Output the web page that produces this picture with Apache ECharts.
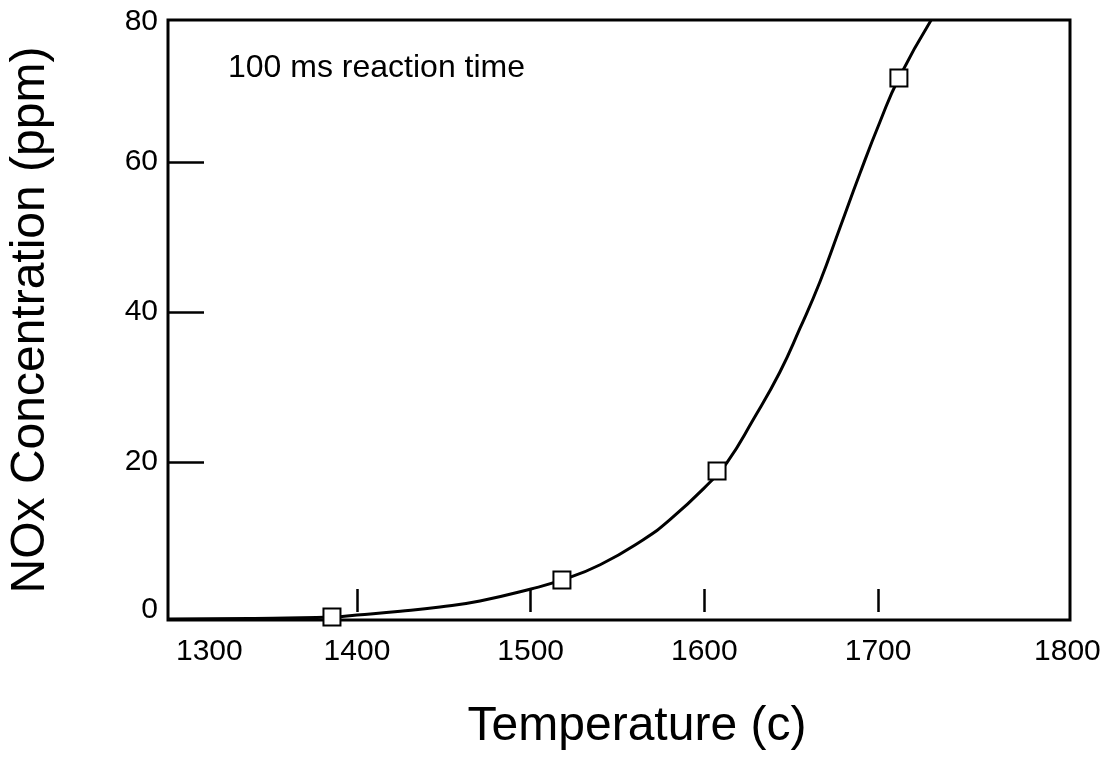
<!DOCTYPE html>
<html>
<head>
<meta charset="utf-8">
<script src="https://cdn.jsdelivr.net/npm/echarts@6/dist/echarts.min.js"></script>
<style>html,body{margin:0;padding:0;background:#fff;}#c{width:1111px;height:758px;}</style>
</head>
<body>
<div id="c"></div>
<script>
// ---- data ----
const markerTemps = [1385.6, 1518, 1607.3, 1712];
const markerNOx   = [-0.67, 4.27, 18.8, 71.2];

const curveTemps = [1291.2, 1338, 1385.6, 1400, 1425, 1447.8, 1470.8, 1500.2, 1518, 1540, 1564.6, 1580.2, 1603.2, 1613, 1628, 1643.5, 1655, 1666.5, 1678, 1689.6, 1701, 1712, 1730.5];
const curveNOx   = [-0.93, -0.87, -0.67, -0.4, 0.1, 0.67, 1.47, 3.07, 4.27, 6.3, 9.6, 12.3, 17.3, 19.9, 25.6, 32.0, 37.8, 44.0, 51.2, 58.5, 65.3, 71.2, 78.9];

const xTickLabels = ['1300', '1400', '1500', '1600', '1700', '1800'];
const yTickLabels = ['0', '20', '40', '60', '80'];
const xTickValues = [1400, 1500, 1600, 1700];
const yTickValues = [20, 40, 60];
// where the original prints its tick labels (end labels sit at the frame edges)
const xLabelAt = [1315, 1400, 1500, 1600, 1700, 1809];
const yLabelAt = [0.27, 20, 40, 60, 78.7];

const xTitle = 'Temperature (c)';
const yTitle = 'NOx Concentration (ppm)';
const note = '100 ms reaction time';

const FONT = '"Liberation Sans", Arial, Helvetica, sans-serif';

const chart = echarts.init(document.getElementById('c'));
chart.setOption({
  animation: false,
  backgroundColor: '#fff',
  grid: {
    left: 168, top: 20, right: 41, bottom: 138,
    outerBoundsMode: 'none', containLabel: false,
    show: true, borderColor: '#000', borderWidth: 3, backgroundColor: 'transparent'
  },
  xAxis: {
    type: 'value',
    min: 1291.2, max: 1810.5,
    axisLine: { show: false },
    splitLine: { show: false },
    axisTick: { show: true, inside: true, length: 23, customValues: xTickValues,
      lineStyle: { color: '#000', width: 2.5 } },
    axisLabel: {
      customValues: xLabelAt,
      formatter: v => xTickLabels[xLabelAt.indexOf(v)],
      fontFamily: FONT, fontSize: 30, color: '#000', margin: 17,
      showMinLabel: true, showMaxLabel: true
    },
    name: xTitle, nameLocation: 'middle', nameGap: 83,
    nameTextStyle: { fontFamily: FONT, fontSize: 48, color: '#000', padding: [0, 0, 0, 36] }
  },
  yAxis: {
    type: 'value',
    min: -1.07, max: 78.93,
    axisLine: { show: false },
    splitLine: { show: false },
    axisTick: { show: true, inside: true, length: 36, customValues: yTickValues,
      lineStyle: { color: '#000', width: 2.5 } },
    axisLabel: {
      customValues: yLabelAt,
      formatter: v => yTickLabels[yLabelAt.indexOf(v)],
      fontFamily: FONT, fontSize: 30, color: '#000', margin: 10,
      showMinLabel: true, showMaxLabel: true
    },
    name: yTitle, nameLocation: 'middle', nameGap: 113,
    nameTextStyle: { fontFamily: FONT, fontSize: 48, color: '#000' }
  },
  graphic: [{
    type: 'text', left: 228, top: 52,
    style: { text: note, font: '32px ' + FONT, fill: '#000' }
  }],
  series: [{
    type: 'line',
    data: curveTemps.map((t, i) => [t, curveNOx[i]]),
    smooth: 0.5,
    showSymbol: false,
    lineStyle: { color: '#000', width: 3 },
    z: 2
  }, {
    type: 'scatter',
    data: markerTemps.map((t, i) => [t, markerNOx[i]]),
    symbol: 'rect', symbolSize: 17,
    itemStyle: { color: '#fff', borderColor: '#000', borderWidth: 2, opacity: 1 },
    z: 3
  }]
});
</script>
</body>
</html>
